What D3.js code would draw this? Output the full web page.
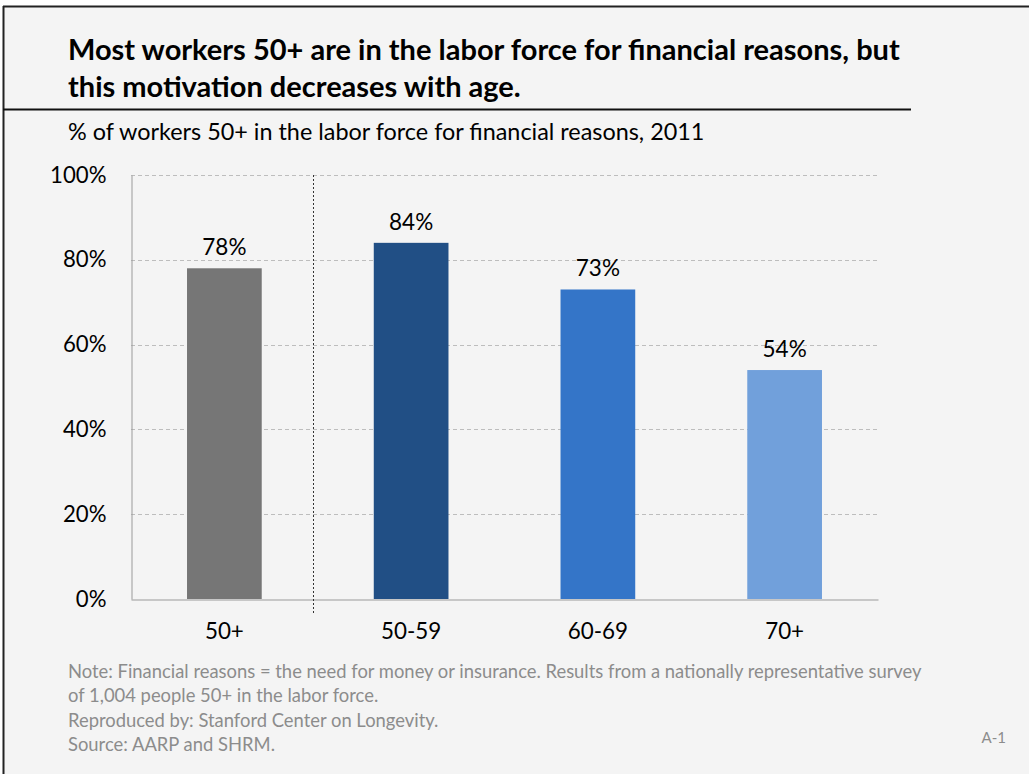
<!DOCTYPE html>
<html>
<head>
<meta charset="utf-8">
<script src="https://cdn.jsdelivr.net/npm/d3@7"></script>
<style>
  html, body { margin: 0; padding: 0; background: #ffffff; }
  svg { display: block; font-family: Lato, "Open Sans", sans-serif; }
</style>
</head>
<body>
<svg id="chart" width="1029" height="774"></svg>
<script>
// Share of workers 50+ in the labor force for financial reasons, 2011
const categories = ["50+", "50-59", "60-69", "70+"];
const values = [78, 84, 73, 54];
const barColors = ["#767676", "#214f85", "#3475c8", "#71a0db"];
const yTicks = [0, 20, 40, 60, 80, 100];

const titleLines = [
  "Most workers 50+ are in the labor force for financial reasons, but",
  "this motivation decreases with age."
];
const subtitle = "% of workers 50+ in the labor force for financial reasons, 2011";
const noteLines = [
  "Note: Financial reasons = the need for money or insurance. Results from a nationally representative survey",
  "of 1,004 people 50+ in the labor force.",
  "Reproduced by: Stanford Center on Longevity.",
  "Source: AARP and SHRM."
];
const pageTag = "A-1";

const svg = d3.select("#chart");

// slide background and frame
svg.append("rect").attr("x", 3).attr("y", 6).attr("width", 1026).attr("height", 768).attr("fill", "#f4f4f4");
svg.append("line").attr("x1", 3).attr("x2", 1029).attr("y1", 6.5).attr("y2", 6.5)
  .attr("stroke", "#222").attr("stroke-width", 2);
svg.append("line").attr("x1", 3.5).attr("x2", 3.5).attr("y1", 6).attr("y2", 774)
  .attr("stroke", "#222").attr("stroke-width", 2);

// title
svg.append("g").selectAll("text").data(titleLines).join("text")
  .attr("x", 68).attr("y", (d, i) => 60 + i * 37)
  .attr("font-size", 29).attr("font-weight", 700).attr("fill", "#000")
  .text(d => d);
svg.append("line").attr("x1", 3).attr("x2", 911).attr("y1", 109.5).attr("y2", 109.5)
  .attr("stroke", "#111").attr("stroke-width", 2);

svg.append("text").attr("x", 68).attr("y", 140)
  .attr("font-size", 23.4).attr("fill", "#000").text(subtitle);

// plot area
const margin = { left: 131, right: 878, top: 175, bottom: 599 };
const x = d3.scaleBand().domain(categories).range([margin.left, margin.right]).paddingInner(0.6).paddingOuter(0.3);
const y = d3.scaleLinear().domain([0, 100]).range([margin.bottom, margin.top]);

// gridlines
svg.append("g").selectAll("line").data(yTicks.filter(t => t > 0)).join("line")
  .attr("x1", margin.left).attr("x2", margin.right)
  .attr("y1", d => Math.round(y(d)) + 0.5).attr("y2", d => Math.round(y(d)) + 0.5)
  .attr("stroke", "#bdbdbd").attr("stroke-width", 1).attr("stroke-dasharray", "4,3");

// y axis
const yAxis = svg.append("g").attr("transform", `translate(${margin.left + 0.5},0)`)
  .call(d3.axisLeft(y).tickValues(yTicks).tickFormat(d => d + "%").tickSize(0).tickPadding(25));
yAxis.select(".domain").attr("stroke", "#9a9a9a");
yAxis.selectAll("text").attr("font-size", 22.2).attr("fill", "#000").attr("font-family", "Lato, sans-serif");

// bars
svg.append("g").selectAll("rect").data(values).join("rect")
  .attr("x", (d, i) => x(categories[i]))
  .attr("width", x.bandwidth())
  .attr("y", d => y(d))
  .attr("height", d => y(0) - y(d))
  .attr("fill", (d, i) => barColors[i]);

// value labels
svg.append("g").selectAll("text").data(values).join("text")
  .attr("x", (d, i) => x(categories[i]) + x.bandwidth() / 2)
  .attr("y", d => y(d) - 13)
  .attr("text-anchor", "middle")
  .attr("font-size", 22.5).attr("fill", "#000")
  .text(d => d + "%");

// x axis
const xAxis = svg.append("g").attr("transform", `translate(0,${margin.bottom + 0.5})`)
  .call(d3.axisBottom(x).tickSize(0).tickPadding(24));
xAxis.select(".domain").attr("stroke", "#9a9a9a");
xAxis.selectAll("text").attr("font-size", 22.4).attr("fill", "#000").attr("font-family", "Lato, sans-serif");

// separator between the all-ages bar and the age groups
const sepX = x(categories[1]) - x.step() * x.paddingInner() / 2 - 4.5;
svg.append("line").attr("x1", Math.round(sepX) + 0.5).attr("x2", Math.round(sepX) + 0.5)
  .attr("y1", margin.top).attr("y2", 614)
  .attr("stroke", "#333").attr("stroke-width", 1).attr("stroke-dasharray", "2,2");

// notes
svg.append("g").selectAll("text").data(noteLines).join("text")
  .attr("x", 68).attr("y", (d, i) => 678 + i * 24.3)
  .attr("font-size", 18.4).attr("fill", "#8c8c8c")
  .text(d => d);

svg.append("text").attr("x", 1006).attr("y", 743).attr("text-anchor", "end")
  .attr("font-size", 15).attr("fill", "#8c8c8c").text(pageTag);
</script>
</body>
</html>
